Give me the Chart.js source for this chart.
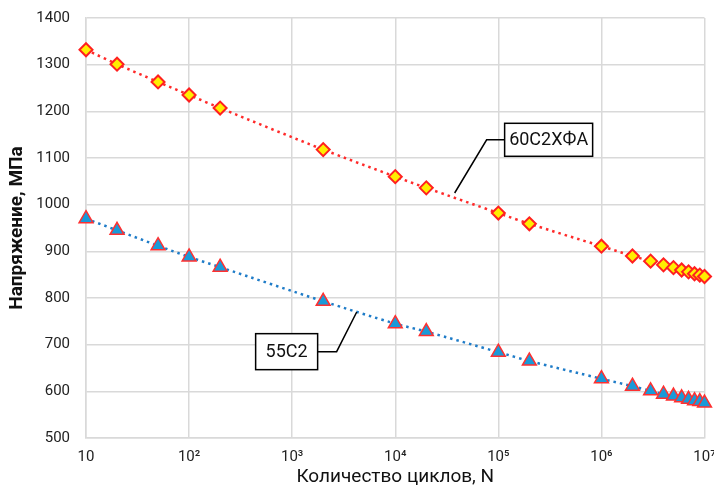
<!DOCTYPE html>
<html>
<head>
<meta charset="utf-8">
<script src="https://cdn.jsdelivr.net/npm/chart.js@4.4.1/dist/chart.umd.min.js"></script>
<style>
  html, body { margin: 0; padding: 0; background: #fff; }
  #wrap { width: 714px; height: 493px; position: relative; }
</style>
</head>
<body>
<div id="wrap"><canvas id="fatigueChart"></canvas></div>
<script>
const cycles = [10, 20, 50, 100, 200, 2000, 1e4, 2e4, 1e5, 2e5, 1e6, 2e6, 3e6, 4e6, 5e6, 6e6, 7e6, 8e6, 9e6, 1e7];
const stress60 = [1332, 1301, 1263, 1235, 1207, 1118, 1060, 1036, 982, 959, 911, 890, 879, 871, 865, 860, 856, 852, 849, 846];
const stress55 = [970, 945, 912, 888, 866, 793, 745, 728, 684, 665, 627, 611, 601, 594, 590, 586, 583, 580, 578, 575];
const xTicks = [10, 1e2, 1e3, 1e4, 1e5, 1e6, 1e7];
const xTickLabels = ["10", "10²", "10³", "10⁴", "10⁵", "10⁶", "10⁷"];
const labelNames = ["60С2ХФА", "55С2"];

const FONT = "Roboto, 'Noto Sans', sans-serif";

// callouts: tip and elbow in data units, box drawn in px from the elbow
const callouts = [
  { text: labelNames[0], tip: [3.77e4, 1025], elbow: [7.7e4, 1139], side: "right", w: 88, h: 33 },
  { text: labelNames[1], tip: [4230, 770], elbow: [2700, 685], side: "left", w: 62, h: 36 }
];

const calloutPlugin = {
  id: "callouts",
  afterDatasetsDraw(chart) {
    const ctx = chart.ctx;
    const xs = chart.scales.x, ys = chart.scales.y;
    ctx.save();
    callouts.forEach((c) => {
      const tx = xs.getPixelForValue(c.tip[0]), ty = ys.getPixelForValue(c.tip[1]);
      const ex = xs.getPixelForValue(c.elbow[0]), ey = ys.getPixelForValue(c.elbow[1]);
      const bx = c.side === "right" ? ex + 18 : ex - 19 - c.w;
      const jx = c.side === "right" ? bx : bx + c.w;
      ctx.strokeStyle = "#000";
      ctx.lineWidth = 1.5;
      ctx.beginPath();
      ctx.moveTo(tx, ty);
      ctx.lineTo(ex, ey);
      ctx.lineTo(jx, ey);
      ctx.stroke();
      ctx.fillStyle = "#fff";
      ctx.fillRect(bx, ey - c.h / 2, c.w, c.h);
      ctx.strokeRect(bx, ey - c.h / 2, c.w, c.h);
      ctx.fillStyle = "#111";
      ctx.font = "18px " + FONT;
      ctx.textAlign = "center";
      ctx.textBaseline = "middle";
      ctx.fillText(c.text, bx + c.w / 2, ey + 1);
    });
    ctx.restore();
  }
};

new Chart(document.getElementById("fatigueChart"), {
  type: "line",
  data: {
    datasets: [
      {
        label: labelNames[0],
        data: cycles.map((n, i) => ({ x: n, y: stress60[i] })),
        borderColor: "#ff2a2a",
        borderWidth: 2.5,
        borderDash: [2.5, 4],
        pointStyle: "rectRot",
        pointRadius: 6.5,
        pointBackgroundColor: "#ffee00",
        pointBorderColor: "#ff2020",
        pointBorderWidth: 2,
        tension: 0.3,
        clip: false
      },
      {
        label: labelNames[1],
        data: cycles.map((n, i) => ({ x: n, y: stress55[i] })),
        borderColor: "#1f7cc8",
        borderWidth: 2.5,
        borderDash: [2.5, 4],
        pointStyle: "triangle",
        pointRadius: 8,
        pointBackgroundColor: "#1a9ad8",
        pointBorderColor: "#ff3030",
        pointBorderWidth: 1.5,
        tension: 0.3,
        clip: false
      }
    ]
  },
  options: {
    responsive: true,
    maintainAspectRatio: false,
    animation: false,
    layout: { padding: { left: 6, right: 0, top: 18, bottom: 4 } },
    plugins: { legend: { display: false }, tooltip: { enabled: false } },
    scales: {
      x: {
        type: "logarithmic",
        min: 10,
        max: 1e7,
        afterBuildTicks(axis) {
          axis.ticks = xTicks.map((v) => ({ value: v }));
        },
        afterFit(axis) {
          axis.height = 51;
          axis.paddingRight = 9;
        },
        grid: { color: "#d9d9d9", lineWidth: 1.5, drawTicks: false },
        border: { color: "#d9d9d9", width: 1.5 },
        ticks: {
          autoSkip: false,
          maxRotation: 0,
          padding: 10,
          color: "#222",
          font: { family: FONT, size: 15 },
          callback: (v) => {
            const i = xTicks.indexOf(v);
            return i >= 0 ? xTickLabels[i] : "";
          }
        },
        title: {
          display: true,
          text: "Количество циклов, N",
          color: "#111",
          font: { family: FONT, size: 19 },
          padding: { top: 4, bottom: 0 }
        }
      },
      y: {
        min: 500,
        max: 1400,
        afterFit(axis) {
          axis.width = 80;
          axis.paddingTop = 0;
          axis.paddingBottom = 0;
        },
        grid: { color: "#d9d9d9", lineWidth: 1.5, drawTicks: false },
        border: { color: "#d9d9d9", width: 1.5 },
        ticks: {
          stepSize: 100,
          padding: 16,
          color: "#222",
          font: { family: FONT, size: 15 },
          callback: (v) => String(v)
        },
        title: {
          display: true,
          text: "Напряжение, МПа",
          color: "#111",
          font: { family: FONT, size: 19, weight: "bold" },
          padding: { top: 0, bottom: 2 }
        }
      }
    }
  },
  plugins: [calloutPlugin]
});
</script>
</body>
</html>
